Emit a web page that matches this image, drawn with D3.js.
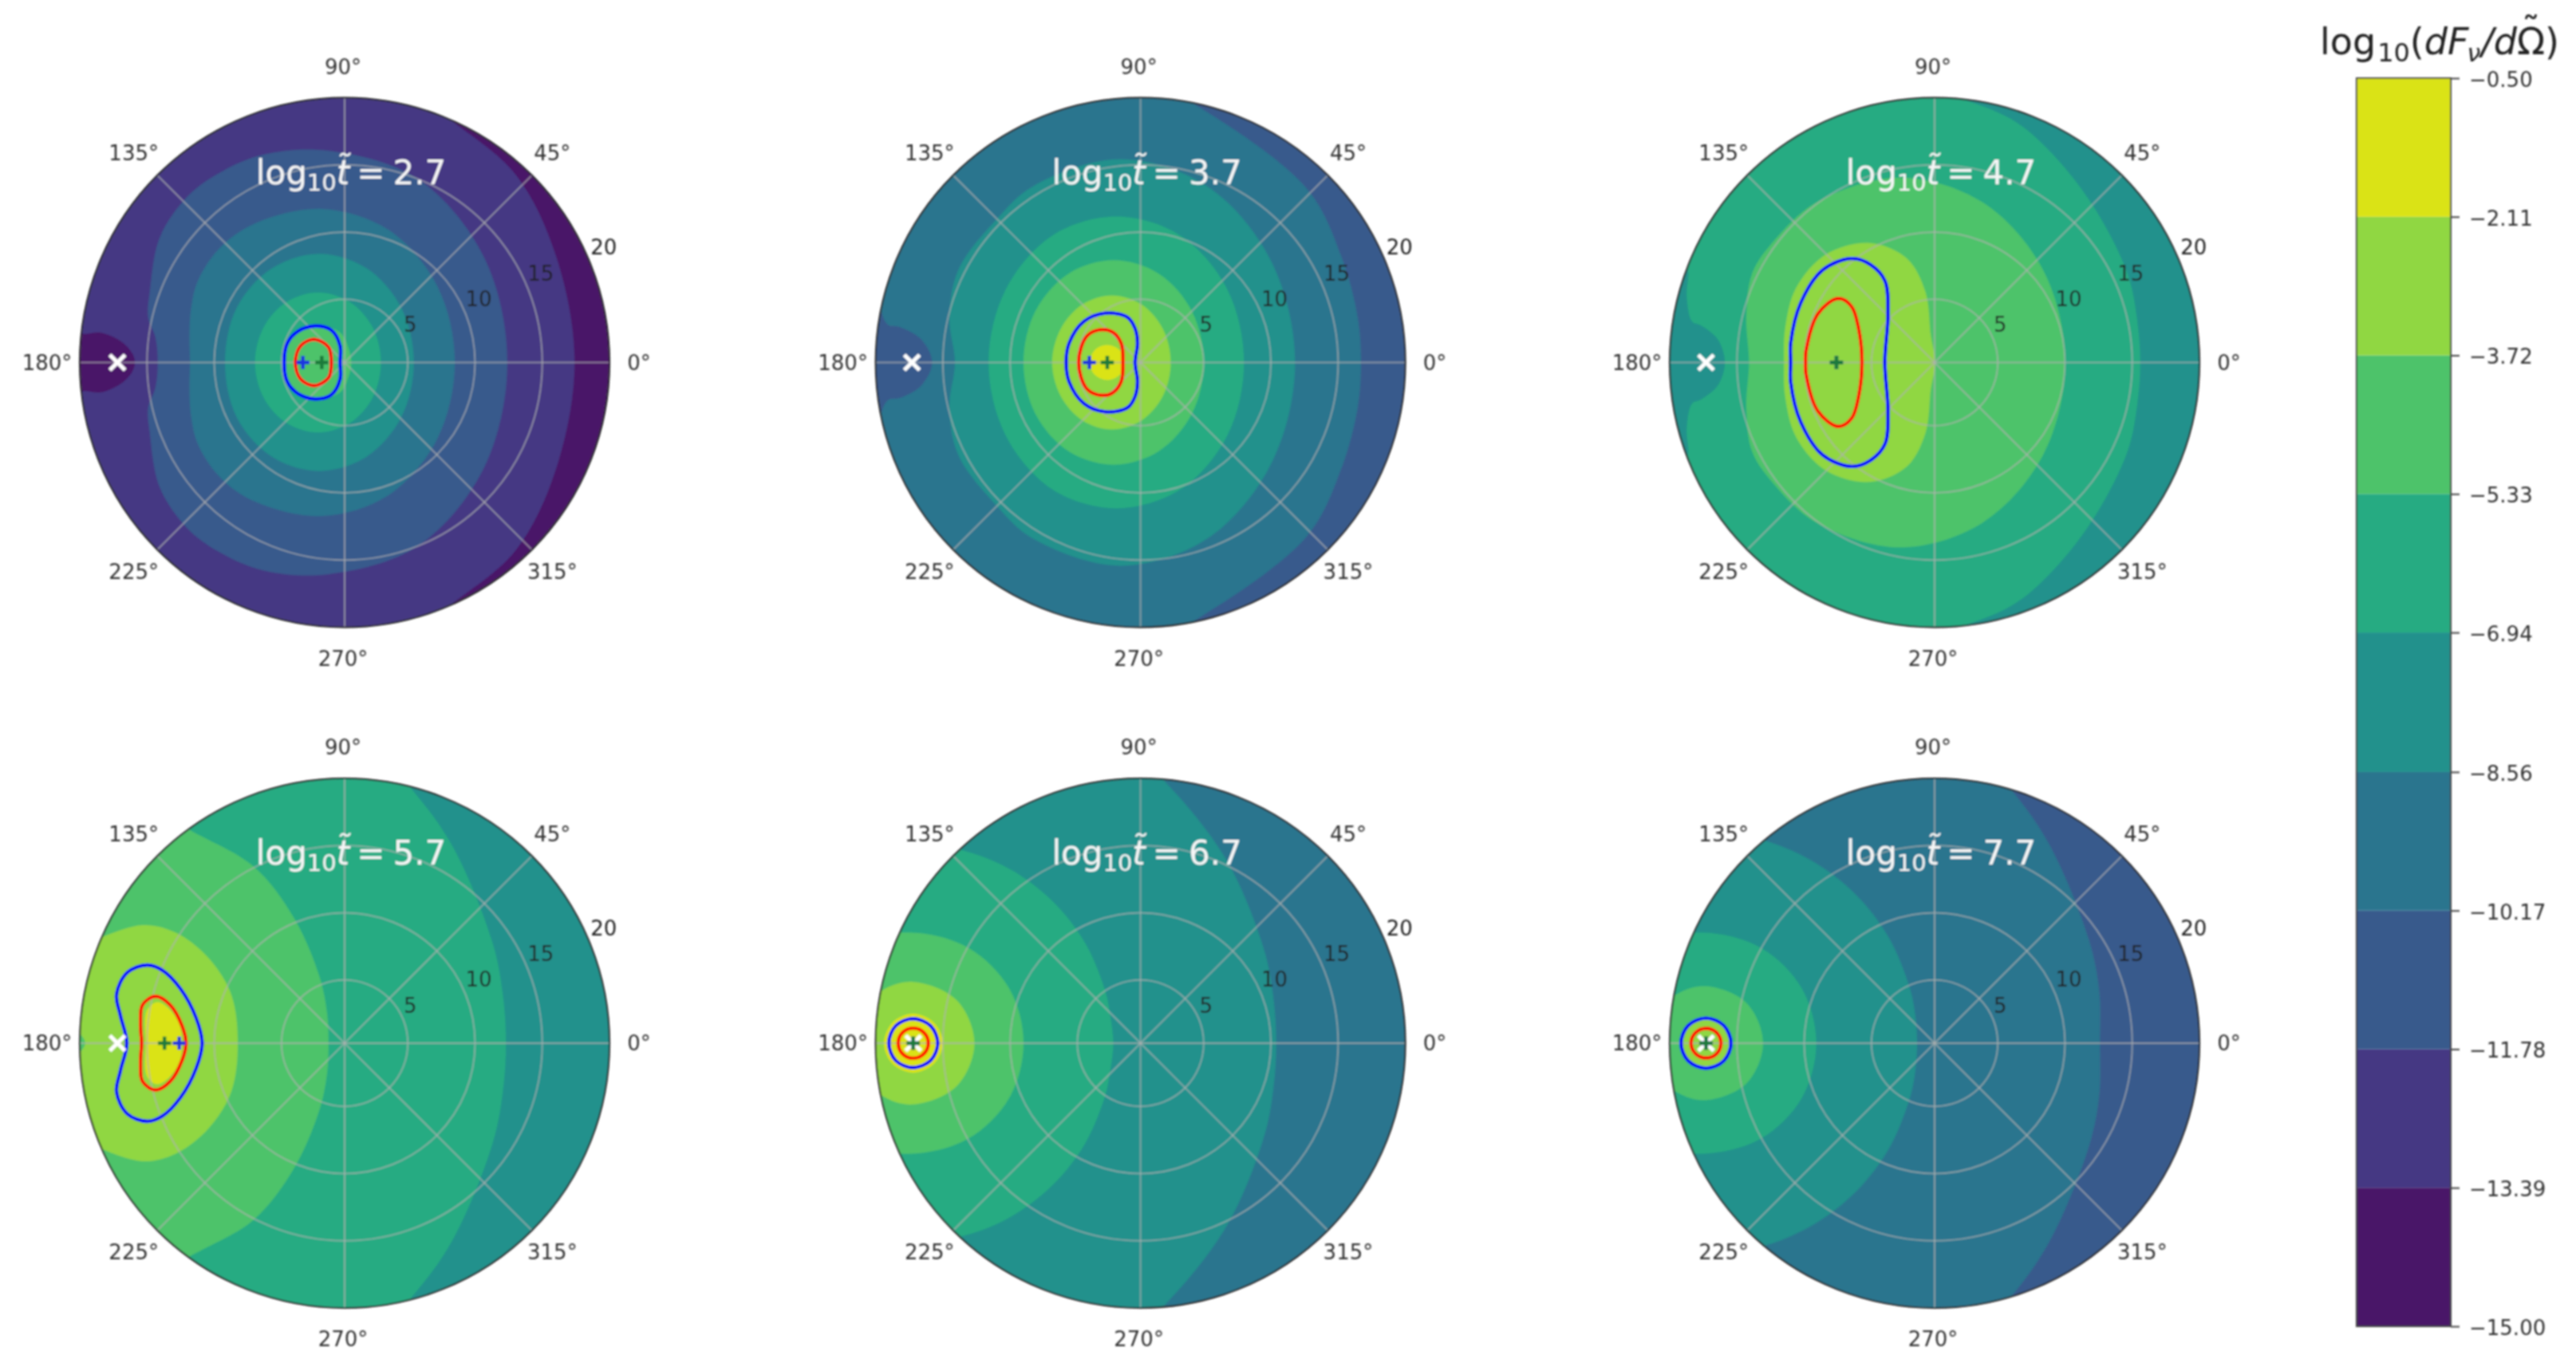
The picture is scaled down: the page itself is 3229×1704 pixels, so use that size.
<!DOCTYPE html>
<html>
<head>
<meta charset="utf-8">
<script src="https://cdn.jsdelivr.net/npm/d3@7"></script>
<style>
  html, body {margin: 0; padding: 0; background: #fff;}
  svg {display: block;}
  text {font-family: "DejaVu Sans", sans-serif;}
</style>
</head>
<body>
<div id="chart"></div>
<script>
//-- Colorbar levels and panel times
var level_list = [-15.00, -13.39, -11.78, -10.17, -8.56, -6.94, -5.33, -3.72, -2.11, -0.50];
var time_list = ['2.7', '3.7', '4.7', '5.7', '6.7', '7.7'];
var theta_ticks = [0, 45, 90, 135, 180, 225, 270, 315];
var r_ticks = [5, 10, 15, 20];

//-- Index of the colorbar band filling the background of each panel
var base_band = [0, 2, 4, 4, 3, 2];

//-- Filled contours, upper half only as [theta in deg, r]; the picture is symmetric about 0-180
var panel_1_bands = [
  [[0,17.4],[26.7,17.9],[47.7,19.2],[66.5,20],[75,21],[120,22],[165,22],[172,21],[173.7,20],[173,18.6],[174.6,17],[177.6,16.1],[180,15.9]],
  [[0,12.4],[37.3,13.3],[68.2,15],[94.4,16.1],[111.3,16.9],[123.4,17.2],[133.4,17.3],[145.9,16.9],[160.3,15.7],[167,15.3],[172.4,14.5],[180,14.2]],
  [[0,8.5],[39.8,9.24],[71.8,10.7],[98.3,11.85],[122.5,12.6],[137.2,12.9],[150.7,12.8],[160.8,12.4],[170.7,12],[180,11.8]],
  [[0,5.45],[43.8,6.15],[76.9,7.5],[103.3,8.6],[127.9,9.16],[153.3,9.3],[180,9.2]],
  [[0,3],[51.3,3.64],[85.2,4.83],[110.7,5.87],[133.7,6.54],[156.6,6.87],[180,6.97]],
  [[0,0.8],[74,1.37],[97.6,2.5],[127.8,3.86],[152,4.66],[180,4.85]]
];
var panel_2_bands = [
  [[0,16.7],[11.7,16.8],[28,17.2],[46.4,18.2],[78.8,20],[90,21.5],[150,22],[167,20.2],[171.5,19.3],[171.6,18.4],[174,16.7],[180,15.8]],
  [[0,11.8],[37.8,12.6],[69,14.3],[95.7,15.5],[121.5,15.65],[135,15.4],[153,15.5],[166.8,14.9],[180,14.1]],
  [[0,8],[40.1,8.74],[72.5,10.2],[99.3,11.3],[124.7,11.8],[151.5,11.7],[180,11.6]],
  [[0,5],[45,5.7],[78.4,7.04],[104.7,8.16],[129,8.8],[154,9],[180,9]],
  [[0,2.55],[56.3,3.3],[89.3,4.63],[113.2,5.72],[135,6.4],[157.2,6.74],[180,6.87]],
  [[180,1.48],[149.5,2.1],[152.3,3.1],[164.8,3.82],[180,4.08]]
];
var panel_3_bands = [
  [[0,15.6],[12,15.7],[24.7,16.1],[45,16.9],[62.3,18.3],[72.8,19.3],[88,20.3],[100,21.5],[150,21.5],[157,20.5],[160,19.8],[164.9,19.4],[170.4,18.6],[171,17.9],[174,16.5],[180,15.9]],
  [[0,10],[40.4,10.9],[73.4,12.74],[100.7,14.3],[126.3,15.1],[143.7,15.3],[154,15.4],[166.5,14.7],[180,14.1]],
  [[0,0.35],[98,2.3],[97.4,5.6],[104.9,8.3],[118.4,10.4],[135.3,11.7],[151.7,12],[167.2,11.7],[180,11.5]]
];
var panel_4_bands = [
  [[0,12.3],[17.8,12.64],[34.2,13.6],[60.6,16.88],[74.2,19.6],[85.7,22.5],[130,25],[180,25]],
  [[180,1.5],[120.6,2.86],[110.7,5.6],[112.1,10.4],[117.3,15.1],[126.1,20],[129,23],[150,24],[180,24]],
  [[180,8.25],[157,9.45],[148,12.2],[146.8,15.3],[149.7,17.7],[157.4,20.3],[160,21],[175,21],[177,20.3],[180,19.6]],
  [[180,12.4],[173.2,12.7],[168.6,13.75],[167.7,14.6],[170.5,15.2],[180,15.1]]
];
var panel_5_bands = [
  [[0,10.4],[19.6,10.78],[37.3,11.84],[64.4,15.27],[83.5,19.5],[93.6,22.45],[130,25],[180,25]],
  [[180,2.32],[139.1,3.25],[124.2,4.93],[118.9,8.75],[121.6,12.58],[126.5,16.26],[132.4,19.67],[138.8,22.76],[165,24],[180,24]],
  [[180,9],[157.3,10.9],[151,14.94],[154.1,19.1],[158.7,21.45],[172,23],[180,23]],
  [[180,12.65],[166.8,14.35],[164.9,17.8],[168.4,19.88],[175,21.5],[180,21.5]],
  [[180,15],[174.3,15.74],[172.6,17.34],[175.2,18.8],[180,19.38]]
];
var panel_6_bands = [
  [[0,12.6],[17.4,13.14],[33.6,14.1],[59.9,17.35],[73.5,20.07],[85,22.98],[130,25],[180,25]],
  [[180,1.6],[124.9,2.8],[114.3,4.75],[113.4,8.85],[118,12.87],[124,16.69],[130.5,20.23],[137.3,23.44],[165,25],[180,25]],
  [[180,9.1],[157.5,11],[151.2,15],[154.2,19.17],[158.7,21.54],[172,23],[180,23]],
  [[180,13.06],[167.9,14.62],[166,17.82],[169.1,19.77],[175,21.5],[180,21.5]],
  [[180,15.55],[175.5,16.11],[174.1,17.39],[176.1,18.58],[180,19.05]]
];

//-- Blue and red line contours, upper half as [theta in deg, r]
var panel_1_blue = [[180,0.64],[105.3,1.57],[112.3,2.9],[128.8,3.78],[146.2,4.47],[161.5,4.8],[180,4.8]];
var panel_2_blue = [[180,0.7],[98.7,1.75],[99,2.85],[106,3.8],[125.3,4.8],[144,5.5],[165,5.8],[180,5.83]];
var panel_3_blue = [[180,4],[133.9,5.3],[121.3,7.4],[123.2,9],[128.6,10.2],[140.4,11.1],[156,11.2],[172.4,11.1],[180,11]];
var panel_4_blue = [[180,10.9],[170.4,11.5],[161.7,13.15],[158.2,14.9],[158.4,16.1],[162,17.3],[167.9,17.65],[173,17.1],[180,16.5]];
var panel_5_blue = [[180,15.38],[175.3,15.96],[173.85,17.3],[175.9,18.54],[180,19.02]];
var panel_6_blue = [[180,15.44],[175.2,16.04],[173.75,17.4],[175.9,18.67],[180,19.16]];

var panel_1_red = [[180,1.29],[136.5,1.94],[142.9,3.15],[159.4,3.8],[180,3.96]];
var panel_2_red = [[180,1.6],[135.5,2.3],[132.4,3.34],[139.7,4.08],[153.6,4.74],[180,4.9]];
var panel_3_red = [[180,5.7],[155.8,6.5],[146,7.75],[146.4,8.9],[157.3,9.7],[174.8,9.9],[180,9.9]];
var panel_4_red = [[180,12.1],[174,12.45],[167.6,13.6],[166.1,14.8],[169.3,15.6],[174.5,15.55],[180,15.4]];
var panel_5_red = [[180,16.08],[177.2,16.43],[176.2,17.24],[177.4,18.01],[180,18.32]];
var panel_6_red = [[180,16.19],[177.2,16.54],[176.3,17.34],[177.5,18.1],[180,18.41]];

//-- Markers on the 180 deg spoke, radius only
var x_mark_r = [17.2, 17.3, 17.3, 17.2, 17.2, 17.3];
var blue_mark_r = [3.4, 4.1, 7.6, 12.6, 17.2, 17.3];
var green_mark_r = [2.0, 2.77, 7.6, 13.7, 17.2, 17.3];

var band_list = [panel_1_bands, panel_2_bands, panel_3_bands, panel_4_bands, panel_5_bands, panel_6_bands];
var blue_list = [panel_1_blue, panel_2_blue, panel_3_blue, panel_4_blue, panel_5_blue, panel_6_blue];
var red_list = [panel_1_red, panel_2_red, panel_3_red, panel_4_red, panel_5_red, panel_6_red];

var tot_width = 3229;
var tot_height = 1704;
var col_x = [432, 1429.6, 2425];
var row_y = [454.5, 1308];
var radius = 332;
var r_label_dx = [9, 17, 17, 18];

var svg = d3.select('#chart')
  .append('svg')
    .attr('width', tot_width)
    .attr('height', tot_height)
    .attr('viewBox', '0 0 ' + tot_width + ' ' + tot_height);

var defs = svg.append('defs');
defs.append('filter')
    .attr('id', 'soft')
  .append('feGaussianBlur')
    .attr('stdDeviation', 1);
defs.append('clipPath')
    .attr('id', 'disc')
  .append('circle')
    .attr('r', radius);

var root = svg.append('g').attr('filter', 'url(#soft)');

//-- Scales
var r_scale = d3.scaleLinear().domain([0.3, 20]).range([0, radius]);
var theta_scale = d3.scaleLinear().domain([0, 360]).range([Math.PI/2, Math.PI/2 - 2*Math.PI]);
var viridis = d3.scaleSequential(d3.interpolateViridis).domain([level_list[0], level_list[9]]);

function Band_Color(i) {
  return viridis(-15 + (i + 0.5) * 14.5 / 9);
}

//-- From the half contour to the closed one
function Mirror(half) {
  var back = half.slice().reverse()
    .filter(function (p) {return p[0] % 180 != 0;})
    .map(function (p) {return [360 - p[0], p[1]];});
  return half.concat(back);
}

var contour = d3.lineRadial()
  .angle(function (p) {return theta_scale(p[0]);})
  .radius(function (p) {return r_scale(p[1]);})
  .curve(d3.curveCatmullRomClosed.alpha(0.5));

function Polar_XY(theta, r) {
  var rad = theta * Math.PI / 180;
  return [r_scale(r) * Math.cos(rad), -r_scale(r) * Math.sin(rad)];
}

function Draw_Panel(k) {
  var g = root.append('g')
    .attr('transform', 'translate(' + col_x[k % 3] + ',' + row_y[Math.floor(k / 3)] + ')');

  //-- Filled bands
  var disc = g.append('g').attr('clip-path', 'url(#disc)');
  disc.append('circle')
      .attr('r', radius)
      .attr('fill', Band_Color(base_band[k]));
  disc.selectAll('path.band')
    .data(band_list[k])
    .enter()
    .append('path')
      .attr('class', 'band')
      .attr('d', function (d) {return contour(Mirror(d));})
      .attr('fill', function (d, i) {return Band_Color(base_band[k] + i + 1);});

  //-- Grid
  g.selectAll('circle.grid')
    .data(r_ticks)
    .enter()
    .append('circle')
      .attr('class', 'grid')
      .attr('r', function (d) {return r_scale(d);})
      .attr('fill', 'none')
      .attr('stroke', '#b0b0b0')
      .attr('stroke-width', 2)
      .attr('stroke-opacity', 0.65);

  g.selectAll('line.grid')
    .data(theta_ticks)
    .enter()
    .append('line')
      .attr('class', 'grid')
      .attr('x1', 0)
      .attr('y1', 0)
      .attr('x2', function (d) {return radius * Math.cos(d * Math.PI / 180);})
      .attr('y2', function (d) {return -radius * Math.sin(d * Math.PI / 180);})
      .attr('stroke', '#b0b0b0')
      .attr('stroke-width', 2)
      .attr('stroke-opacity', 0.65);

  //-- Blue and red lines
  g.append('path')
      .attr('d', contour(Mirror(blue_list[k])))
      .attr('fill', 'none')
      .attr('stroke', '#0000ff')
      .attr('stroke-width', 4.4);
  g.append('path')
      .attr('d', contour(Mirror(red_list[k])))
      .attr('fill', 'none')
      .attr('stroke', '#ff0d00')
      .attr('stroke-width', 4.4);

  //-- Markers
  var pos = Polar_XY(180, x_mark_r[k]);
  g.append('path')
      .attr('d', d3.symbol().type(d3.symbolTimes).size(240)())
      .attr('transform', 'translate(' + pos + ')')
      .attr('fill', 'none')
      .attr('stroke', '#fff')
      .attr('stroke-width', 5);

  pos = Polar_XY(180, blue_mark_r[k]);
  g.append('path')
      .attr('d', d3.symbol().type(d3.symbolPlus).size(90)())
      .attr('transform', 'translate(' + pos + ')')
      .attr('fill', 'none')
      .attr('stroke', '#1f35e0')
      .attr('stroke-width', 4.5);

  pos = Polar_XY(180, green_mark_r[k]);
  g.append('path')
      .attr('d', d3.symbol().type(d3.symbolPlus).size(90)())
      .attr('transform', 'translate(' + pos + ')')
      .attr('fill', 'none')
      .attr('stroke', '#1b7a3a')
      .attr('stroke-width', 4.5);

  //-- Frame
  g.append('circle')
      .attr('r', radius)
      .attr('fill', 'none')
      .attr('stroke', '#222')
      .attr('stroke-width', 2);

  //-- Angle labels
  g.selectAll('text.angle')
    .data(theta_ticks)
    .enter()
    .append('text')
      .attr('class', 'angle')
      .attr('x', function (d) {return 371 * Math.cos(d * Math.PI / 180) - 2;})
      .attr('y', function (d) {return -371 * Math.sin(d * Math.PI / 180);})
      .attr('text-anchor', 'middle')
      .attr('dominant-baseline', 'central')
      .attr('font-size', 26)
      .attr('fill', '#333')
      .text(function (d) {return d + '°';});

  //-- Radius labels
  g.selectAll('text.radial')
    .data(r_ticks)
    .enter()
    .append('text')
      .attr('class', 'radial')
      .attr('x', function (d, i) {return Polar_XY(22.5, d)[0] + r_label_dx[i];})
      .attr('y', function (d) {return Polar_XY(22.5, d)[1] - 17;})
      .attr('text-anchor', 'middle')
      .attr('dominant-baseline', 'central')
      .attr('font-size', 26)
      .attr('fill', '#222')
      .text(function (d) {return d;});

  //-- Time label
  var title = g.append('text')
      .attr('x', 8)
      .attr('y', -224)
      .attr('text-anchor', 'middle')
      .attr('font-size', 42)
      .attr('fill', '#f6f6f6');
  title.append('tspan').text('log');
  title.append('tspan').attr('font-size', 29).attr('dy', 8).text('10');
  title.append('tspan').attr('font-style', 'italic').attr('dy', -8).text('t\u0303');
  title.append('tspan').attr('dx', 9).text('=');
  title.append('tspan').attr('dx', 10).text(time_list[k]);
}

var k;
for (k=0; k<6; k++) Draw_Panel(k);

//-- Colorbar
var cb_left = 2954;
var cb_right = 3072;
var cb_y = d3.scaleLinear().domain([level_list[0], level_list[9]]).range([1663, 98]);
var cb = root.append('g');

cb.selectAll('rect')
  .data(d3.range(9))
  .enter()
  .append('rect')
    .attr('x', cb_left)
    .attr('y', function (d) {return cb_y(level_list[d + 1]);})
    .attr('width', cb_right - cb_left)
    .attr('height', function (d) {return cb_y(level_list[d]) - cb_y(level_list[d + 1]);})
    .attr('fill', function (d) {return Band_Color(d);});

cb.append('rect')
    .attr('x', cb_left)
    .attr('y', cb_y(level_list[9]))
    .attr('width', cb_right - cb_left)
    .attr('height', cb_y(level_list[0]) - cb_y(level_list[9]))
    .attr('fill', 'none')
    .attr('stroke', '#444')
    .attr('stroke-width', 2);

var cb_axis = d3.axisRight(cb_y)
  .tickValues(level_list)
  .tickFormat(d3.format('.2f'))
  .tickSize(11)
  .tickPadding(12);

cb.append('g')
    .attr('transform', 'translate(' + cb_right + ',0)')
    .call(cb_axis)
    .call(function (a) {a.select('.domain').remove();})
    .call(function (a) {a.selectAll('line').attr('stroke', '#444').attr('stroke-width', 2);})
    .call(function (a) {
      a.selectAll('text')
        .attr('y', 2)
        .attr('font-size', 26)
        .attr('font-family', '"DejaVu Sans", sans-serif')
        .attr('fill', '#333');
    });

//-- Colorbar title, the tilde is lifted over the omega inside the same text
var cb_title = cb.append('text')
    .attr('x', 2908)
    .attr('y', 68)
    .attr('font-size', 46)
    .attr('fill', '#222');
cb_title.append('tspan').text('log');
cb_title.append('tspan').attr('font-size', 32).attr('dx', 2).attr('dy', 9).text('10');
cb_title.append('tspan').attr('dy', -9).text('(');
cb_title.append('tspan').attr('font-style', 'italic').text('dF');
cb_title.append('tspan').attr('font-style', 'italic').attr('font-size', 30).attr('dx', -2).attr('dy', 9).text('ν');
cb_title.append('tspan').attr('font-style', 'italic').attr('dx', 1).attr('dy', -9).text('/d');
cb_title.append('tspan').text('\u03a9');
cb_title.append('tspan').attr('dx', -29).attr('dy', -14).text('\u02dc');
cb_title.append('tspan').attr('dx', 6).attr('dy', 14).text(')');
</script>
</body>
</html>
